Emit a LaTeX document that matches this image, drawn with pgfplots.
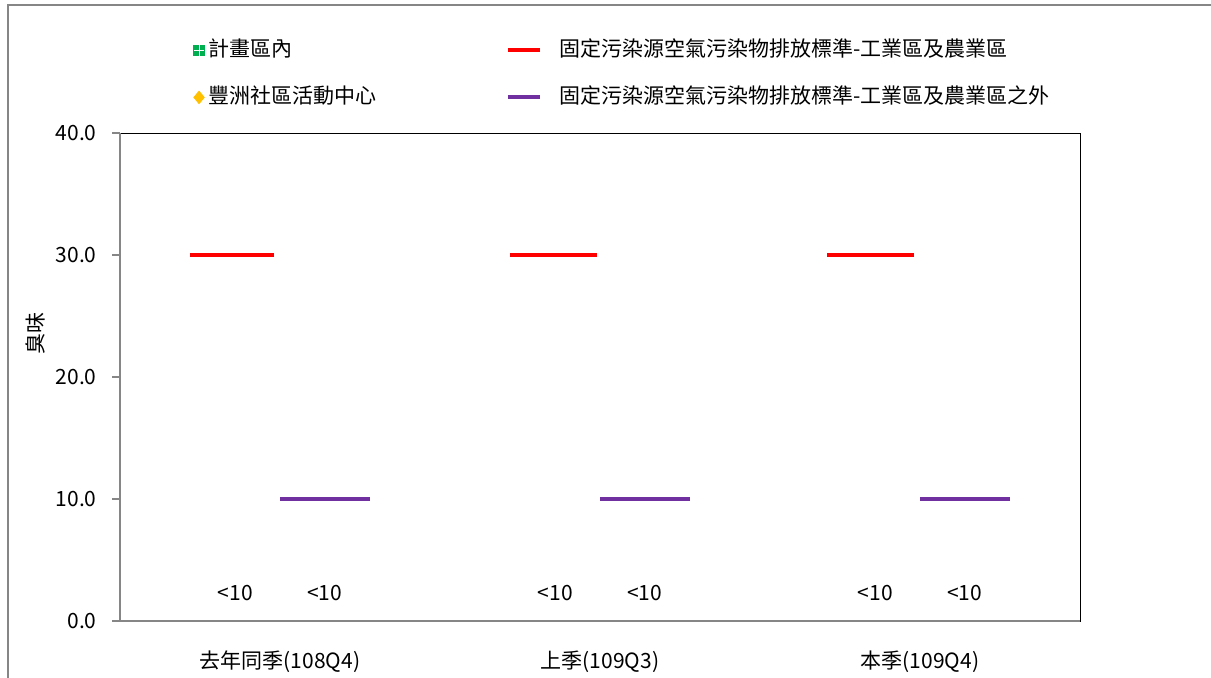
\documentclass[border=0pt]{standalone}
\usepackage{pgfplots}
\pgfplotsset{compat=1.18}
\usepackage{fontspec}
\setmainfont{Noto Sans CJK TC}
\definecolor{stdred}{HTML}{FF0000}
\definecolor{stdpurple}{HTML}{7030A0}
\definecolor{mkgreen}{HTML}{00B050}
\definecolor{mkgold}{HTML}{FFC000}
\definecolor{spine}{HTML}{868686}
\newcommand{\cf}{\fontsize{10.5pt}{12pt}\selectfont}
\begin{document}
\begin{tikzpicture}
\useasboundingbox (0,0) rectangle (605.5pt,338.5pt);
\draw[spine, line width=1pt] (4pt,-5pt) -- (4pt,336pt) -- (612pt,336pt);
\begin{axis}[
  at={(60pt,28pt)}, anchor=south west, scale only axis,
  width=480pt, height=244pt,
  xmin=-0.5, xmax=2.5, ymin=0, ymax=40,
  xtick={0,1,2},
  xticklabels={去年同季(108Q4),上季(109Q3),本季(109Q4)},
  ytick={0,10,20,30,40},
  /pgf/number format/assume math mode=true,
  yticklabel style={/pgf/number format/fixed, /pgf/number format/fixed zerofill, /pgf/number format/precision=1},
  every tick label/.append style={font=\cf, text=black},
  xticklabel style={anchor=base, inner sep=0pt, yshift=-19.5pt},
  yticklabel style={anchor=east, inner sep=0pt, xshift=-7.5pt},
  xtick style={draw=none},
  ytick pos=left,
  tick align=outside,
  major tick length=4pt,
  ytick style={draw=spine, line width=1pt},
  axis line style={black, line width=0.5pt},
  ylabel={臭味},
  ylabel style={at={(axis description cs:-0.0885,0.59)}, anchor=center, font=\cf},
  clip=false,
  unbounded coords=jump,
  legend columns=2,
  legend cell align=left,
  legend style={at={(axis description cs:0.076,1.1906)}, anchor=north west,
    draw=none, fill=none, inner sep=0pt, font=\cf,
    column sep=0pt, row sep=13.5pt,
    nodes={inner sep=0pt, text height=8pt, text depth=2pt},
    /tikz/every even column/.append style={column sep=65pt}},
  after end axis/.code={
    \draw[spine, line width=1pt] (rel axis cs:0,1) -- (rel axis cs:0,0) -- (rel axis cs:1,0);
  },
]
% Standard: industrial and agricultural zones
\addplot[stdred, line width=2pt, forget plot] table[row sep=\\] {
x y\\
-0.28 30\\
-0.02 30\\
nan nan\\
0.72 30\\
0.99 30\\
nan nan\\
1.71 30\\
1.98 30\\
};
% Standard: outside industrial and agricultural zones
\addplot[stdpurple, line width=2pt, forget plot] table[row sep=\\] {
x y\\
0.00 10\\
0.28 10\\
nan nan\\
1.00 10\\
1.28 10\\
nan nan\\
2.00 10\\
2.28 10\\
};
% Measured values (below detection, labelled <10)
\addplot[draw=none, mark=none, forget plot, nodes near coords,
  point meta=explicit symbolic,
  nodes near coords style={anchor=center, yshift=14pt, inner sep=0pt, font=\cf, text=black}]
  table[row sep=\\, meta=label] {
x y label\\
-0.14 0 {<10}\\
0.86 0 {<10}\\
1.86 0 {<10}\\
};
\addplot[draw=none, mark=none, forget plot, nodes near coords,
  point meta=explicit symbolic,
  nodes near coords style={anchor=center, yshift=14pt, inner sep=0pt, font=\cf, text=black}]
  table[row sep=\\, meta=label] {
x y label\\
0.14 0 {<10}\\
1.14 0 {<10}\\
2.14 0 {<10}\\
};
\addlegendimage{legend image code/.code={
  \fill[mkgreen] (0pt,-2.6pt) rectangle (5.2pt,2.6pt);
  \draw[white, line width=0.5pt] (2.6pt,-2.6pt) -- (2.6pt,2.6pt) (0pt,0pt) -- (5.2pt,0pt);
  \path (7pt,0pt);}}
\addlegendentry{計畫區內}
\addlegendimage{legend image code/.code={
  \draw[stdred, line width=2pt] (0pt,0pt) -- (16pt,0pt);
  \path (25.5pt,0pt);}}
\addlegendentry{固定污染源空氣污染物排放標準-工業區及農業區}
\addlegendimage{legend image code/.code={
  \fill[mkgold] (2.6pt,3.1pt) -- (5.2pt,0pt) -- (2.6pt,-3.1pt) -- (0pt,0pt) -- cycle;
  \path (7pt,0pt);}}
\addlegendentry{豐洲社區活動中心}
\addlegendimage{legend image code/.code={
  \draw[stdpurple, line width=2pt] (0pt,0pt) -- (16pt,0pt);
  \path (25.5pt,0pt);}}
\addlegendentry{固定污染源空氣污染物排放標準-工業區及農業區之外}
\end{axis}
\end{tikzpicture}
\end{document}
